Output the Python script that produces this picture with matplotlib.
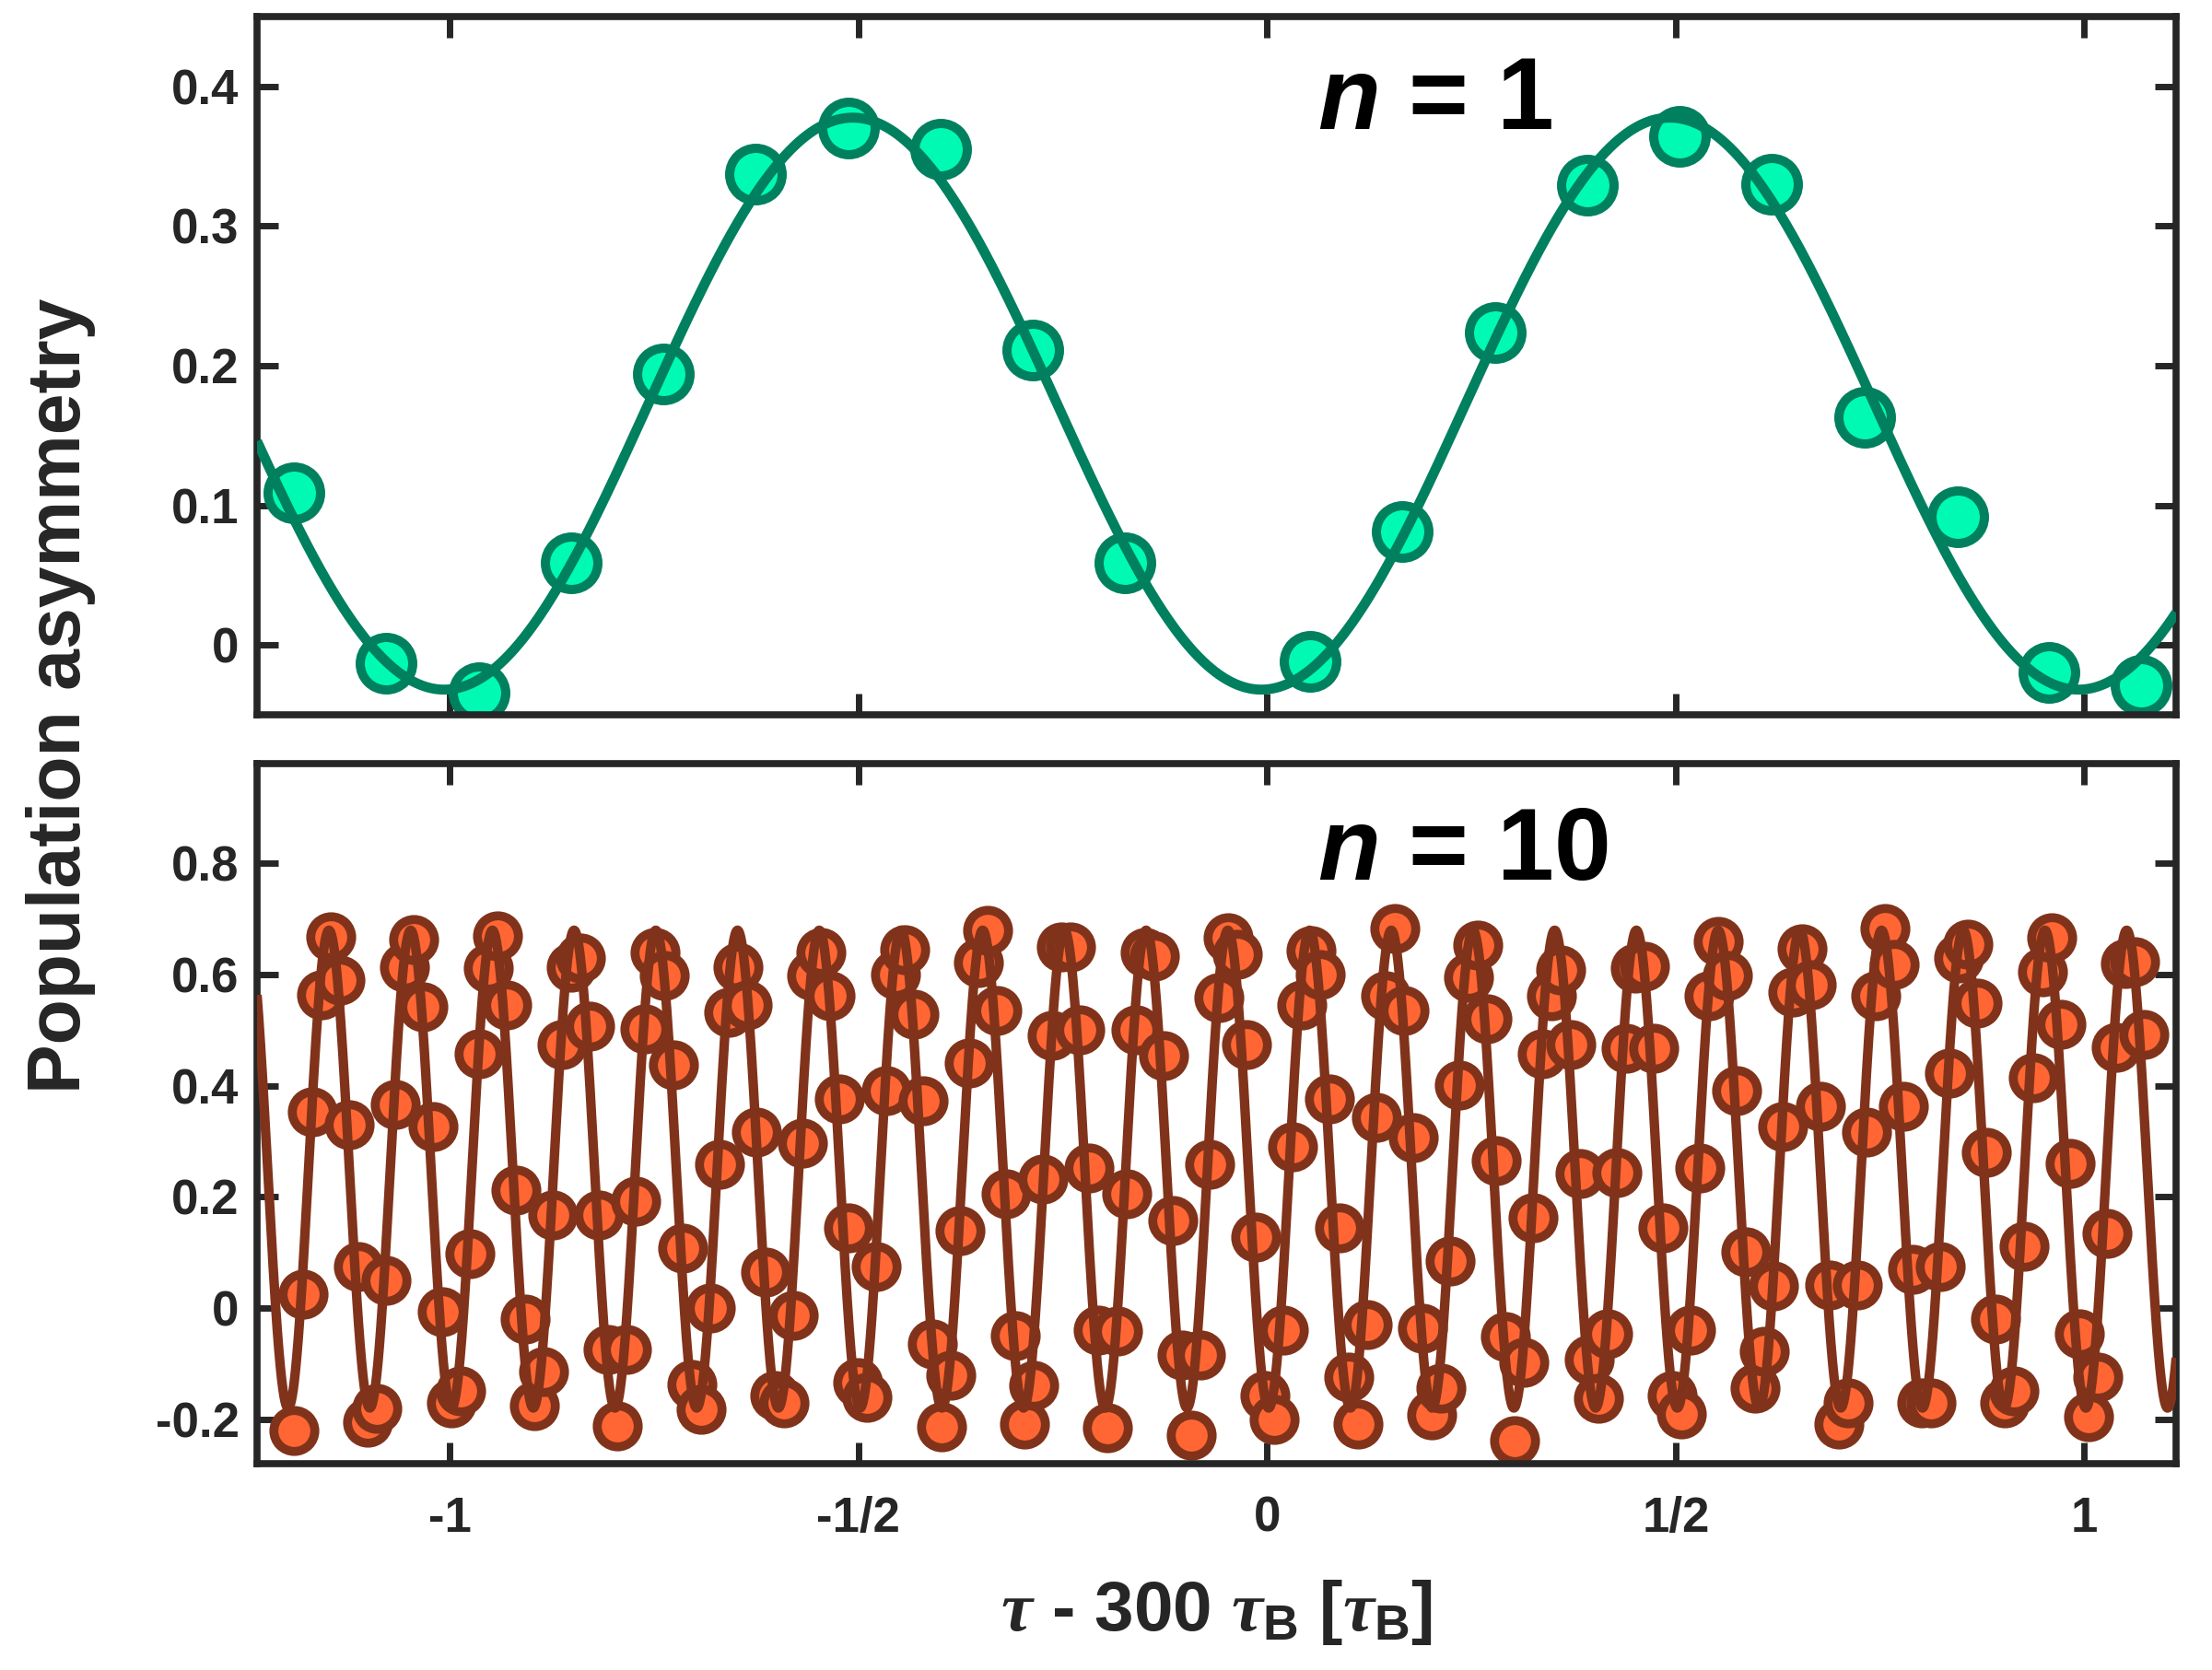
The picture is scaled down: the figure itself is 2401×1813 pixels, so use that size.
import numpy as np
import matplotlib
matplotlib.use("Agg")
import matplotlib.pyplot as plt
from matplotlib.ticker import FixedLocator, FixedFormatter

# ---------------- data ----------------
# n = 1 : population asymmetry sampled once per tau step (one sample missing)
tau_n1 = [-1.191, -1.078, -0.964, -0.852, -0.739, -0.626, -0.512, -0.400,
          -0.287, -0.174, 0.053, 0.165, 0.279, 0.392, 0.505, 0.618,
          0.731, 0.845, 0.957, 1.070]
asym_n1 = [0.109, -0.013, -0.034, 0.059, 0.194, 0.337, 0.370, 0.355,
           0.211, 0.059, -0.012, 0.081, 0.224, 0.329, 0.364, 0.330,
           0.163, 0.092, -0.020, -0.029]

# n = 10 : sampled on a grid ten times finer
tau_n10_start = -1.191
tau_n10_step = 0.01132
asym_n10 = [
    -0.220, 0.025, 0.353, 0.563, 0.668, 0.590, 0.330, 0.075, -0.206, -0.180,
    0.049, 0.366, 0.614, 0.663, 0.542, 0.327, -0.007, -0.170, -0.150, 0.098,
    0.457, 0.611, 0.670, 0.546, 0.212, -0.020, -0.176, -0.114, 0.167, 0.474,
    0.614, 0.630, 0.507, 0.167, -0.075, -0.212, -0.075, 0.193, 0.503, 0.640,
    0.598, 0.438, 0.108, -0.137, -0.183, 0.000, 0.258, 0.533, 0.614, 0.546,
    0.317, 0.065, -0.157, -0.170, -0.013, 0.297, 0.598, 0.640, 0.562, 0.376,
    0.144, -0.134, -0.160, 0.075, 0.392, 0.600, 0.645, 0.529, 0.373, -0.065,
    -0.214, -0.121, 0.140, 0.441, 0.621, 0.680, 0.536, 0.206, -0.049, -0.209,
    -0.140, 0.232, 0.490, 0.650, 0.650, 0.500, 0.252, -0.039, -0.216, -0.042,
    0.206, 0.500, 0.640, 0.634, 0.454, 0.157, -0.085, -0.229, -0.085, 0.258,
    0.559, 0.667, 0.637, 0.474, 0.127, -0.157, -0.200, -0.039, 0.290, 0.546,
    0.644, 0.601, 0.376, 0.144, -0.124, -0.209, -0.029, 0.343, 0.562, 0.683,
    0.536, 0.307, -0.036, -0.193, -0.144, 0.085, 0.402, 0.595, 0.654, 0.520,
    0.265, -0.052, -0.239, -0.098, 0.163, 0.458, 0.562, 0.608, 0.474, 0.242,
    -0.092, -0.163, -0.046, 0.243, 0.467, 0.611, 0.615, 0.467, 0.144, -0.157,
    -0.190, -0.039, 0.252, 0.562, 0.660, 0.598, 0.392, 0.101, -0.144, -0.078,
    0.039, 0.327, 0.569, 0.647, 0.582, 0.363, 0.042, -0.209, -0.170, 0.042,
    0.317, 0.562, 0.683, 0.618, 0.363, 0.070, -0.170, -0.170, 0.075, 0.422,
    0.630, 0.655, 0.549, 0.281, -0.020, -0.170, -0.150, 0.111, 0.415, 0.605,
    0.667, 0.510, 0.261, -0.046, -0.196, -0.124, 0.134, 0.470, 0.620, 0.624,
    0.493,
]

# sinusoidal fits: offset, amplitude, frequency, position of a minimum
fit_n1 = dict(offset=0.1728, amplitude=0.2048, freq=1.0, x_min=-0.007)
fit_n10 = dict(offset=0.250, amplitude=0.430, freq=10.0, x_min=0.002)

x_ticks = [-1, -0.5, 0, 0.5, 1]
x_tick_labels = ["-1", "-1/2", "0", "1/2", "1"]
y_ticks_n1 = [0, 0.1, 0.2, 0.3, 0.4]
y_tick_labels_n1 = ["0", "0.1", "0.2", "0.3", "0.4"]
y_ticks_n10 = [-0.2, 0, 0.2, 0.4, 0.6, 0.8]
y_tick_labels_n10 = ["-0.2", "0", "0.2", "0.4", "0.6", "0.8"]

# ---------------- style ----------------
plt.rcParams["font.family"] = ["Liberation Sans", "DejaVu Sans"]
plt.rcParams["font.weight"] = "bold"
plt.rcParams["mathtext.fontset"] = "custom"
plt.rcParams["mathtext.rm"] = "Liberation Sans:bold"
plt.rcParams["mathtext.bf"] = "Liberation Sans:bold"
plt.rcParams["mathtext.it"] = "Liberation Serif:italic"
plt.rcParams["mathtext.sf"] = "Liberation Sans:bold:italic"

AX_COLOR = "#262626"
GREEN_FACE, GREEN_EDGE = "#00FAB4", "#00805E"
ORANGE_FACE, ORANGE_EDGE = "#FF6633", "#80331A"
XLIM = (-1.236, 1.1125)

fig = plt.figure(figsize=(24.01, 18.13), dpi=100)
ax1 = fig.add_axes([0.1162, 0.5720, 0.8676, 0.4181])
ax2 = fig.add_axes([0.1162, 0.1236, 0.8676, 0.4192])


def fit_curve(x, p):
    return p["offset"] - p["amplitude"] * np.cos(2 * np.pi * p["freq"] * (x - p["x_min"]))


def style_axes(ax, yticks, ylabels, show_x):
    ax.set_xlim(*XLIM)
    ax.xaxis.set_major_locator(FixedLocator(x_ticks))
    ax.xaxis.set_major_formatter(FixedFormatter(x_tick_labels if show_x else [""] * len(x_ticks)))
    ax.yaxis.set_major_locator(FixedLocator(yticks))
    ax.yaxis.set_major_formatter(FixedFormatter(ylabels))
    ax.tick_params(axis="both", direction="in", length=16.5, width=5.0,
                   color=AX_COLOR, top=True, right=True, labelsize=38,
                   labelcolor=AX_COLOR)
    ax.tick_params(axis="y", pad=14)
    ax.tick_params(axis="x", pad=25)
    for lab in ax.get_xticklabels() + ax.get_yticklabels():
        lab.set_fontweight("bold")
    for sp in ax.spines.values():
        sp.set_linewidth(5.5)
        sp.set_color(AX_COLOR)


# ---- n = 1 panel ----
x_dense = np.linspace(XLIM[0], XLIM[1], 2000)
ax1.plot(tau_n1, asym_n1, "o", ms=41, mew=7.2, mfc=GREEN_FACE, mec=GREEN_EDGE,
         ls="none", zorder=2)
ax1.plot(x_dense, fit_curve(x_dense, fit_n1), color=GREEN_EDGE, lw=7.8,
         solid_capstyle="butt", zorder=3)
ax1.set_ylim(-0.05, 0.45)
style_axes(ax1, y_ticks_n1, y_tick_labels_n1, show_x=False)
ax1.text(0.5526, 0.839, r"$\mathsf{n}$ = 1", transform=ax1.transAxes,
         fontsize=80, fontweight="bold", color="black", ha="left", va="baseline")

# ---- n = 10 panel ----
tau_n10 = tau_n10_start + tau_n10_step * np.arange(len(asym_n10))
ax2.plot(tau_n10, asym_n10, "o", ms=32, mew=7, mfc=ORANGE_FACE, mec=ORANGE_EDGE,
         ls="none", zorder=2)
x_dense2 = np.linspace(XLIM[0], XLIM[1], 6000)
ax2.plot(x_dense2, fit_curve(x_dense2, fit_n10), color=ORANGE_EDGE, lw=7.4,
         solid_capstyle="butt", zorder=3)
ax2.set_ylim(-0.28, 0.98)
style_axes(ax2, y_ticks_n10, y_tick_labels_n10, show_x=True)
ax2.text(0.5526, 0.834, r"$\mathsf{n}$ = 10", transform=ax2.transAxes,
         fontsize=80, fontweight="bold", color="black", ha="left", va="baseline")

# ---- shared labels ----
fig.text(0.0273, 0.5836, "Population asymmetry", rotation=90, ha="center",
         va="center", fontsize=58, fontweight="bold", color=AX_COLOR)
fig.text(0.5500, 0.0235, r"$\tau$ - 300 $\tau_{\mathrm{B}}$ [$\tau_{\mathrm{B}}$]",
         ha="center", va="baseline", fontsize=55, fontweight="bold", color=AX_COLOR)

fig.savefig("out.png", dpi=100, facecolor="white")
